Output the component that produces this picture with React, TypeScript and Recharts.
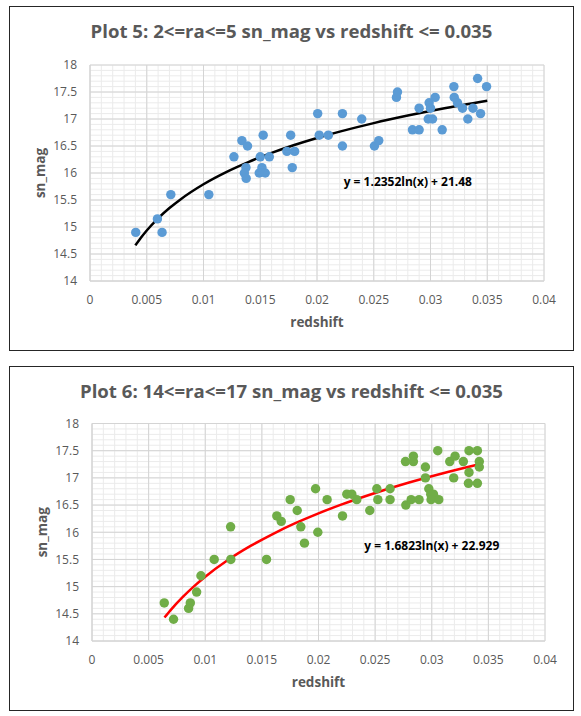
import React from 'react';
import {
  ComposedChart,
  Scatter,
  Line,
  XAxis,
  YAxis,
  ZAxis,
  CartesianGrid,
  ReferenceDot,
} from 'recharts';

// ---------- data ----------
const plot5Points = [
  { x: 0.00403, y: 14.9 }, { x: 0.00594, y: 15.15 }, { x: 0.00635, y: 14.9 },
  { x: 0.00712, y: 15.6 }, { x: 0.01047, y: 15.6 }, { x: 0.01268, y: 16.3 },
  { x: 0.01338, y: 16.6 }, { x: 0.01388, y: 16.5 }, { x: 0.01374, y: 16.1 },
  { x: 0.0136, y: 16.0 }, { x: 0.01376, y: 15.9 }, { x: 0.015, y: 16.3 },
  { x: 0.01526, y: 16.7 }, { x: 0.01515, y: 16.1 }, { x: 0.01491, y: 16.0 },
  { x: 0.01544, y: 16.0 }, { x: 0.0158, y: 16.3 }, { x: 0.01735, y: 16.4 },
  { x: 0.01768, y: 16.7 }, { x: 0.01803, y: 16.4 }, { x: 0.01782, y: 16.1 },
  { x: 0.02006, y: 17.1 }, { x: 0.0202, y: 16.7 }, { x: 0.021, y: 16.7 },
  { x: 0.02224, y: 17.1 }, { x: 0.02224, y: 16.5 }, { x: 0.02394, y: 17.0 },
  { x: 0.02506, y: 16.5 }, { x: 0.02544, y: 16.6 }, { x: 0.027, y: 17.4 },
  { x: 0.02709, y: 17.5 }, { x: 0.02841, y: 16.8 }, { x: 0.029, y: 16.8 },
  { x: 0.029, y: 17.2 }, { x: 0.02988, y: 17.3 }, { x: 0.03, y: 17.2 },
  { x: 0.0298, y: 17.0 }, { x: 0.03018, y: 17.0 }, { x: 0.03041, y: 17.4 },
  { x: 0.03103, y: 16.8 }, { x: 0.03206, y: 17.6 }, { x: 0.03209, y: 17.4 },
  { x: 0.03238, y: 17.3 }, { x: 0.03282, y: 17.2 }, { x: 0.03329, y: 17.0 },
  { x: 0.03374, y: 17.2 }, { x: 0.03415, y: 17.75 }, { x: 0.03441, y: 17.1 },
  { x: 0.03494, y: 17.6 },
];

const plot5Trend = [
  { x: 0.004, y: 14.66 }, { x: 0.0045, y: 14.805 }, { x: 0.005, y: 14.936 },
  { x: 0.006, y: 15.161 }, { x: 0.007, y: 15.351 }, { x: 0.008, y: 15.516 },
  { x: 0.01, y: 15.792 }, { x: 0.012, y: 16.017 }, { x: 0.014, y: 16.207 },
  { x: 0.016, y: 16.372 }, { x: 0.018, y: 16.518 }, { x: 0.02, y: 16.648 },
  { x: 0.022, y: 16.766 }, { x: 0.025, y: 16.924 }, { x: 0.028, y: 17.063 },
  { x: 0.031, y: 17.189 }, { x: 0.035, y: 17.339 },
];

const plot6Points = [
  { x: 0.00638, y: 14.7 }, { x: 0.0072, y: 14.4 }, { x: 0.00853, y: 14.6 },
  { x: 0.00868, y: 14.7 }, { x: 0.00924, y: 14.9 }, { x: 0.00962, y: 15.2 },
  { x: 0.01079, y: 15.5 }, { x: 0.01224, y: 16.1 }, { x: 0.01226, y: 15.5 },
  { x: 0.01541, y: 15.5 }, { x: 0.01632, y: 16.3 }, { x: 0.01671, y: 16.2 },
  { x: 0.0175, y: 16.6 }, { x: 0.01812, y: 16.4 }, { x: 0.01844, y: 16.1 },
  { x: 0.01876, y: 15.8 }, { x: 0.01974, y: 16.8 }, { x: 0.01994, y: 16.0 },
  { x: 0.02076, y: 16.6 }, { x: 0.02212, y: 16.3 }, { x: 0.0225, y: 16.7 },
  { x: 0.02294, y: 16.7 }, { x: 0.02338, y: 16.6 }, { x: 0.02453, y: 16.4 },
  { x: 0.02515, y: 16.8 }, { x: 0.02524, y: 16.6 }, { x: 0.02632, y: 16.8 },
  { x: 0.02632, y: 16.6 }, { x: 0.02768, y: 17.3 }, { x: 0.02771, y: 16.5 },
  { x: 0.02818, y: 16.6 }, { x: 0.02838, y: 17.4 }, { x: 0.02838, y: 17.3 },
  { x: 0.02888, y: 16.6 }, { x: 0.02944, y: 17.2 }, { x: 0.02944, y: 17.0 },
  { x: 0.02974, y: 16.8 }, { x: 0.02991, y: 16.7 }, { x: 0.03015, y: 16.7 },
  { x: 0.02994, y: 16.6 }, { x: 0.03062, y: 16.6 }, { x: 0.03053, y: 17.5 },
  { x: 0.03159, y: 17.3 }, { x: 0.03194, y: 17.0 }, { x: 0.03206, y: 17.4 },
  { x: 0.03279, y: 17.3 }, { x: 0.03329, y: 17.5 }, { x: 0.03329, y: 17.1 },
  { x: 0.03324, y: 16.9 }, { x: 0.03403, y: 17.5 }, { x: 0.03403, y: 16.9 },
  { x: 0.0342, y: 17.3 }, { x: 0.0342, y: 17.2 },
];

const plot6Trend = [
  { x: 0.0064, y: 14.431 }, { x: 0.007, y: 14.582 }, { x: 0.008, y: 14.806 },
  { x: 0.009, y: 15.005 }, { x: 0.01, y: 15.182 }, { x: 0.012, y: 15.489 },
  { x: 0.014, y: 15.748 }, { x: 0.016, y: 15.972 }, { x: 0.018, y: 16.171 },
  { x: 0.02, y: 16.348 }, { x: 0.022, y: 16.508 }, { x: 0.025, y: 16.723 },
  { x: 0.028, y: 16.914 }, { x: 0.031, y: 17.085 }, { x: 0.0343, y: 17.255 },
];

const xTicks = [0, 0.005, 0.01, 0.015, 0.02, 0.025, 0.03, 0.035, 0.04];
const yTicks = [14, 14.5, 15, 15.5, 16, 16.5, 17, 17.5, 18];
const xMinorTicks = [
  0, 0.001, 0.002, 0.003, 0.004, 0.005, 0.006, 0.007, 0.008, 0.009, 0.01,
  0.011, 0.012, 0.013, 0.014, 0.015, 0.016, 0.017, 0.018, 0.019, 0.02,
  0.021, 0.022, 0.023, 0.024, 0.025, 0.026, 0.027, 0.028, 0.029, 0.03,
  0.031, 0.032, 0.033, 0.034, 0.035, 0.036, 0.037, 0.038, 0.039, 0.04,
];
const yMinorTicks = [
  14, 14.1, 14.2, 14.3, 14.4, 14.5, 14.6, 14.7, 14.8, 14.9, 15,
  15.1, 15.2, 15.3, 15.4, 15.5, 15.6, 15.7, 15.8, 15.9, 16,
  16.1, 16.2, 16.3, 16.4, 16.5, 16.6, 16.7, 16.8, 16.9, 17,
  17.1, 17.2, 17.3, 17.4, 17.5, 17.6, 17.7, 17.8, 17.9, 18,
];

const X_DOMAIN: [number, number] = [0, 0.04];
const Y_DOMAIN: [number, number] = [14, 18];

const titles = [
  'Plot 5: 2<=ra<=5 sn_mag vs redshift <= 0.035',
  'Plot 6: 14<=ra<=17 sn_mag vs redshift <= 0.035',
];
const equations = ['y = 1.2352ln(x) + 21.48', 'y = 1.6823ln(x) + 22.929'];
const equationPos = [
  { x: 0.028, y: 15.83 },
  { x: 0.03, y: 15.76 },
];

const FONT = "'Open Sans', 'Noto Sans', sans-serif";
const TEXT = '#595959';

function scaleOf(axis: any): ((v: number) => number) | null {
  if (!axis) return null;
  const s = axis.scale;
  if (typeof s === 'function') return s;
  if (s && typeof s.map === 'function') return (v: number) => s.map(v);
  return null;
}

const verticalMinor = ({ xAxis, offset }: any) => {
  const s = scaleOf(xAxis);
  return xMinorTicks.map((v) =>
    s ? s(v) : offset.left + ((v - X_DOMAIN[0]) / (X_DOMAIN[1] - X_DOMAIN[0])) * offset.width,
  );
};
const horizontalMinor = ({ yAxis, offset }: any) => {
  const s = scaleOf(yAxis);
  return yMinorTicks.map((v) =>
    s ? s(v) : offset.top + ((Y_DOMAIN[1] - v) / (Y_DOMAIN[1] - Y_DOMAIN[0])) * offset.height,
  );
};

type PanelProps = {
  top: number;
  title: string;
  points: { x: number; y: number }[];
  trend: { x: number; y: number }[];
  dotColor: string;
  lineColor: string;
  equation: string;
  eqPos: { x: number; y: number };
  margin: { top: number; right: number; bottom: number; left: number };
};

function Panel(p: PanelProps) {
  return (
    <>
      <div
        style={{
          position: 'absolute',
          left: 9,
          top: p.top + 6,
          width: 565,
          height: 345,
          border: '1.5px solid #262626',
          boxSizing: 'border-box',
          background: '#fff',
        }}
      />
      <div
        style={{
          position: 'absolute',
          left: 9,
          width: 565,
          top: p.top + 22,
          textAlign: 'center',
          fontFamily: FONT,
          fontWeight: 700,
          fontSize: 18.6,
          lineHeight: 1,
          color: TEXT,
          whiteSpace: 'nowrap',
        }}
      >
        {p.title}
      </div>
      <div style={{ position: 'absolute', left: 0, top: p.top, fontFamily: FONT }}>
        <ComposedChart width={581} height={360} margin={p.margin}>
          <CartesianGrid
            stroke="#ebebeb"
            strokeWidth={1}
            verticalCoordinatesGenerator={verticalMinor}
            horizontalCoordinatesGenerator={horizontalMinor}
          />
          <CartesianGrid stroke="#d4d4d4" strokeWidth={1} />
          <XAxis
            dataKey="x"
            type="number"
            domain={X_DOMAIN}
            ticks={xTicks}
            interval={0}
            height={30}
            tickLine={false}
            tickSize={0}
            tickMargin={14}
            axisLine={{ stroke: '#d4d4d4' }}
            tick={{ fill: TEXT, fontSize: 12, fontFamily: FONT }}
            label={{
              value: 'redshift',
              position: 'bottom',
              offset: 6,
              fill: TEXT,
              fontSize: 13.5,
              fontWeight: 700,
              fontFamily: FONT,
            }}
          />
          <YAxis
            dataKey="y"
            type="number"
            domain={Y_DOMAIN}
            ticks={yTicks}
            interval={0}
            width={60}
            tickLine={false}
            tickSize={0}
            tickMargin={13}
            axisLine={{ stroke: '#d4d4d4' }}
            tick={{ fill: TEXT, fontSize: 12, fontFamily: FONT }}
            label={{
              value: 'sn_mag',
              angle: -90,
              position: 'insideLeft',
              offset: 10,
              fill: TEXT,
              fontSize: 13.5,
              fontWeight: 700,
              fontFamily: FONT,
              style: { textAnchor: 'middle' },
            }}
          />
          <ZAxis range={[70, 70]} />
          <Scatter data={p.points} dataKey="y" fill={p.dotColor} isAnimationActive={false} />
          <Line
            data={p.trend}
            dataKey="y"
            type="monotone"
            stroke={p.lineColor}
            strokeWidth={2.5}
            dot={false}
            activeDot={false}
            isAnimationActive={false}
          />
          <ReferenceDot
            x={p.eqPos.x}
            y={p.eqPos.y}
            r={0}
            stroke="none"
            fill="none"
            label={{
              value: p.equation,
              position: 'center',
              fill: '#000',
              fontSize: 12,
              fontWeight: 700,
              fontFamily: FONT,
            }}
          />
        </ComposedChart>
      </div>
    </>
  );
}

export default function App() {
  return (
    <div style={{ position: 'absolute', left: 0, top: 0, width: 581, height: 716, background: '#fff' }}>
      <Panel
        top={0}
        title={titles[0]}
        points={plot5Points}
        trend={plot5Trend}
        dotColor="#5b9bd5"
        lineColor="#000000"
        equation={equations[0]}
        eqPos={equationPos[0]}
        margin={{ top: 65, right: 37, bottom: 49, left: 30 }}
      />
      <Panel
        top={360}
        title={titles[1]}
        points={plot6Points}
        trend={plot6Trend}
        dotColor="#70ad47"
        lineColor="#ff0000"
        equation={equations[1]}
        eqPos={equationPos[1]}
        margin={{ top: 63.5, right: 36, bottom: 49, left: 32 }}
      />
    </div>
  );
}
